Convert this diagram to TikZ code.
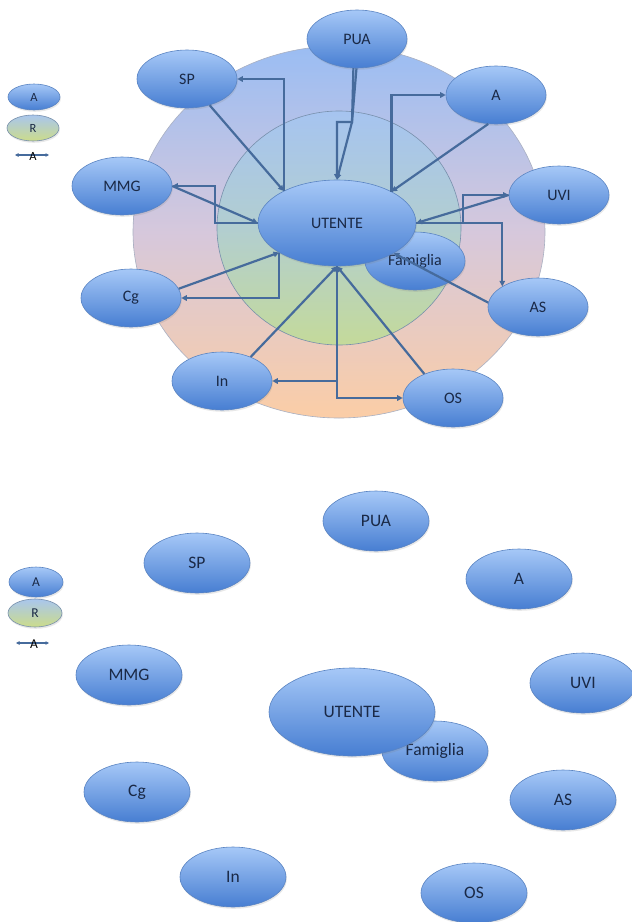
\documentclass[tikz,border=0pt]{standalone}
\usepackage{fontspec}
\setmainfont{Carlito}
\usetikzlibrary{shapes.geometric,arrows.meta,shadows}
\definecolor{nodetop}{HTML}{A6C8F7}
\definecolor{nodebot}{HTML}{477ED2}
\definecolor{nodeline}{HTML}{5A84C2}
\definecolor{txt}{HTML}{1A2946}
\definecolor{conn}{HTML}{466B9C}
\definecolor{outtop}{HTML}{9ABDF3}
\definecolor{outmid}{HTML}{D6C8DC}
\definecolor{outbot}{HTML}{FBCDA6}
\definecolor{outln}{HTML}{A9B0C2}
\definecolor{intop}{HTML}{A6C4F0}
\definecolor{inmid}{HTML}{B2CED0}
\definecolor{inbot}{HTML}{C4DA9A}
\definecolor{inln}{HTML}{7890AC}
\definecolor{legtop}{HTML}{A9C6EE}
\definecolor{legbot}{HTML}{CCDC8A}
\begin{document}
\begin{tikzpicture}[x=1pt,y={(0pt,-1pt)},
  bub/.style={ellipse, draw=nodeline, line width=0.6pt, top color=nodetop, bottom color=nodebot,
    inner sep=0pt, text=txt, font=\fontsize{16}{17}\selectfont,
    minimum width=100pt, minimum height=58pt,
    drop shadow={opacity=0.18, shadow xshift=0.8pt, shadow yshift=-1.8pt}},
  bubB/.style={bub, minimum width=106pt, minimum height=60pt, font=\fontsize{17.5}{19}\selectfont},
  legA/.style={bub, minimum width=52pt, minimum height=26pt, font=\fontsize{12.5}{13}\selectfont},
  legR/.style={legA, top color=legtop, bottom color=legbot, draw=inln},
  arr/.style={draw=conn, line width=2.2pt, -{Triangle[length=5.5pt,width=5.5pt]}},
  legarr/.style={draw=conn, line width=1.4pt, {Triangle[length=3.5pt,width=3.5pt]}-{Triangle[length=3.5pt,width=3.5pt]}},
]
\useasboundingbox (0,0) rectangle (632,922);
\fill[white] (0,0) rectangle (632,922);

% ---------------- top diagram ----------------
\node[ellipse, draw=outln, line width=0.6pt, top color=outtop, bottom color=outbot, middle color=outmid,
  minimum width=412pt, minimum height=372pt, inner sep=0pt] (outer) at (339,232) {};
\node[ellipse, draw=inln, line width=0.6pt, top color=intop, bottom color=inbot, middle color=inmid,
  minimum width=244pt, minimum height=234pt, inner sep=0pt] (inner) at (339,228) {};

\node[bub] (FAM) at (415,261) {Famiglia};
\node[bub, minimum width=158pt, minimum height=86pt] (UT) at (337,223) {UTENTE};
\node[bub] (PUA) at (357,39) {PUA};
\node[bub] (SP) at (187,79) {SP};
\node[bub] (A) at (496,95) {A};
\node[bub] (MMG) at (122,186) {MMG};
\node[bub] (UVI) at (559,195) {UVI};
\node[bub] (CG) at (131,298) {Cg};
\node[bub] (AS) at (538,307) {AS};
\node[bub] (IN) at (222,381) {In};
\node[bub] (OS) at (453,398) {OS};

% legend top
\node[legA] (LA1) at (34,97) {A};
\node[legR] (LR1) at (33,128) {R};
\coordinate (LL1) at (15,155);
\coordinate (LL2) at (49,155);
\draw[legarr] (LL1) -- (LL2);
\node[font=\fontsize{12.5}{13}\selectfont, text=black, inner sep=0pt] (LT1) at (33,156) {A};

% connectors top
\draw[arr] (SP) -- (UT.149);
\draw[arr] (UT.149) |- (SP.east);
\draw[arr] (PUA.-97) -- (352,122) -- (UT.north);
\draw[arr] (PUA.-91) -- (352,122) -| (UT.north);
\draw[arr] (A.-105) -- (UT.30);
\draw[arr] (UT.30) |- (A.west);
\draw[arr] (MMG.east) -- (UT.west);
\draw[arr] (UT.west) -- (215,223) |- (MMG.east);
\draw[arr] (CG.11) -- (UT.-153);
\draw[arr] (UT.-153) |- (CG.east);
\draw[arr] (UVI.west) -- (UT.east);
\draw[arr] (UT.east) -- (463,223) |- (UVI.west);
\draw[arr] (UT.east) -| (AS.150);
\draw[arr] (AS.175) -- (UT.-28);
\draw[arr] (IN.40) -- (UT.south);
\draw[arr] (OS.140) -- (UT.south);
\draw[arr] (UT.south) |- (IN.east);
\draw[arr] (UT.south) |- (OS.west);

% ---------------- bottom diagram ----------------
\node[bubB] (FAMb) at (435,751) {Famiglia};
\node[bubB, minimum width=166pt, minimum height=88pt] (UTb) at (352,712) {UTENTE};
\node[bubB] (PUAb) at (376,521) {PUA};
\node[bubB] (SPb) at (197,563) {SP};
\node[bubB] (Ab) at (519,579) {A};
\node[bubB] (MMGb) at (129,675) {MMG};
\node[bubB] (UVIb) at (583,683) {UVI};
\node[bubB] (CGb) at (137,792) {Cg};
\node[bubB] (ASb) at (563,800) {AS};
\node[bubB] (INb) at (233,877) {In};
\node[bubB] (OSb) at (474,893) {OS};

% legend bottom
\node[legA, minimum width=54pt, minimum height=30pt, font=\fontsize{13.5}{14}\selectfont] (LA2) at (36,582) {A};
\node[legR, minimum width=54pt, minimum height=28pt, font=\fontsize{13.5}{14}\selectfont] (LR2) at (35,613) {R};
\coordinate (LL3) at (16,643);
\coordinate (LL4) at (49,643);
\draw[legarr] (LL3) -- (LL4);
\node[font=\fontsize{13.5}{14}\selectfont, text=black, inner sep=0pt] (LT2) at (34,644) {A};
\end{tikzpicture}
\end{document}
